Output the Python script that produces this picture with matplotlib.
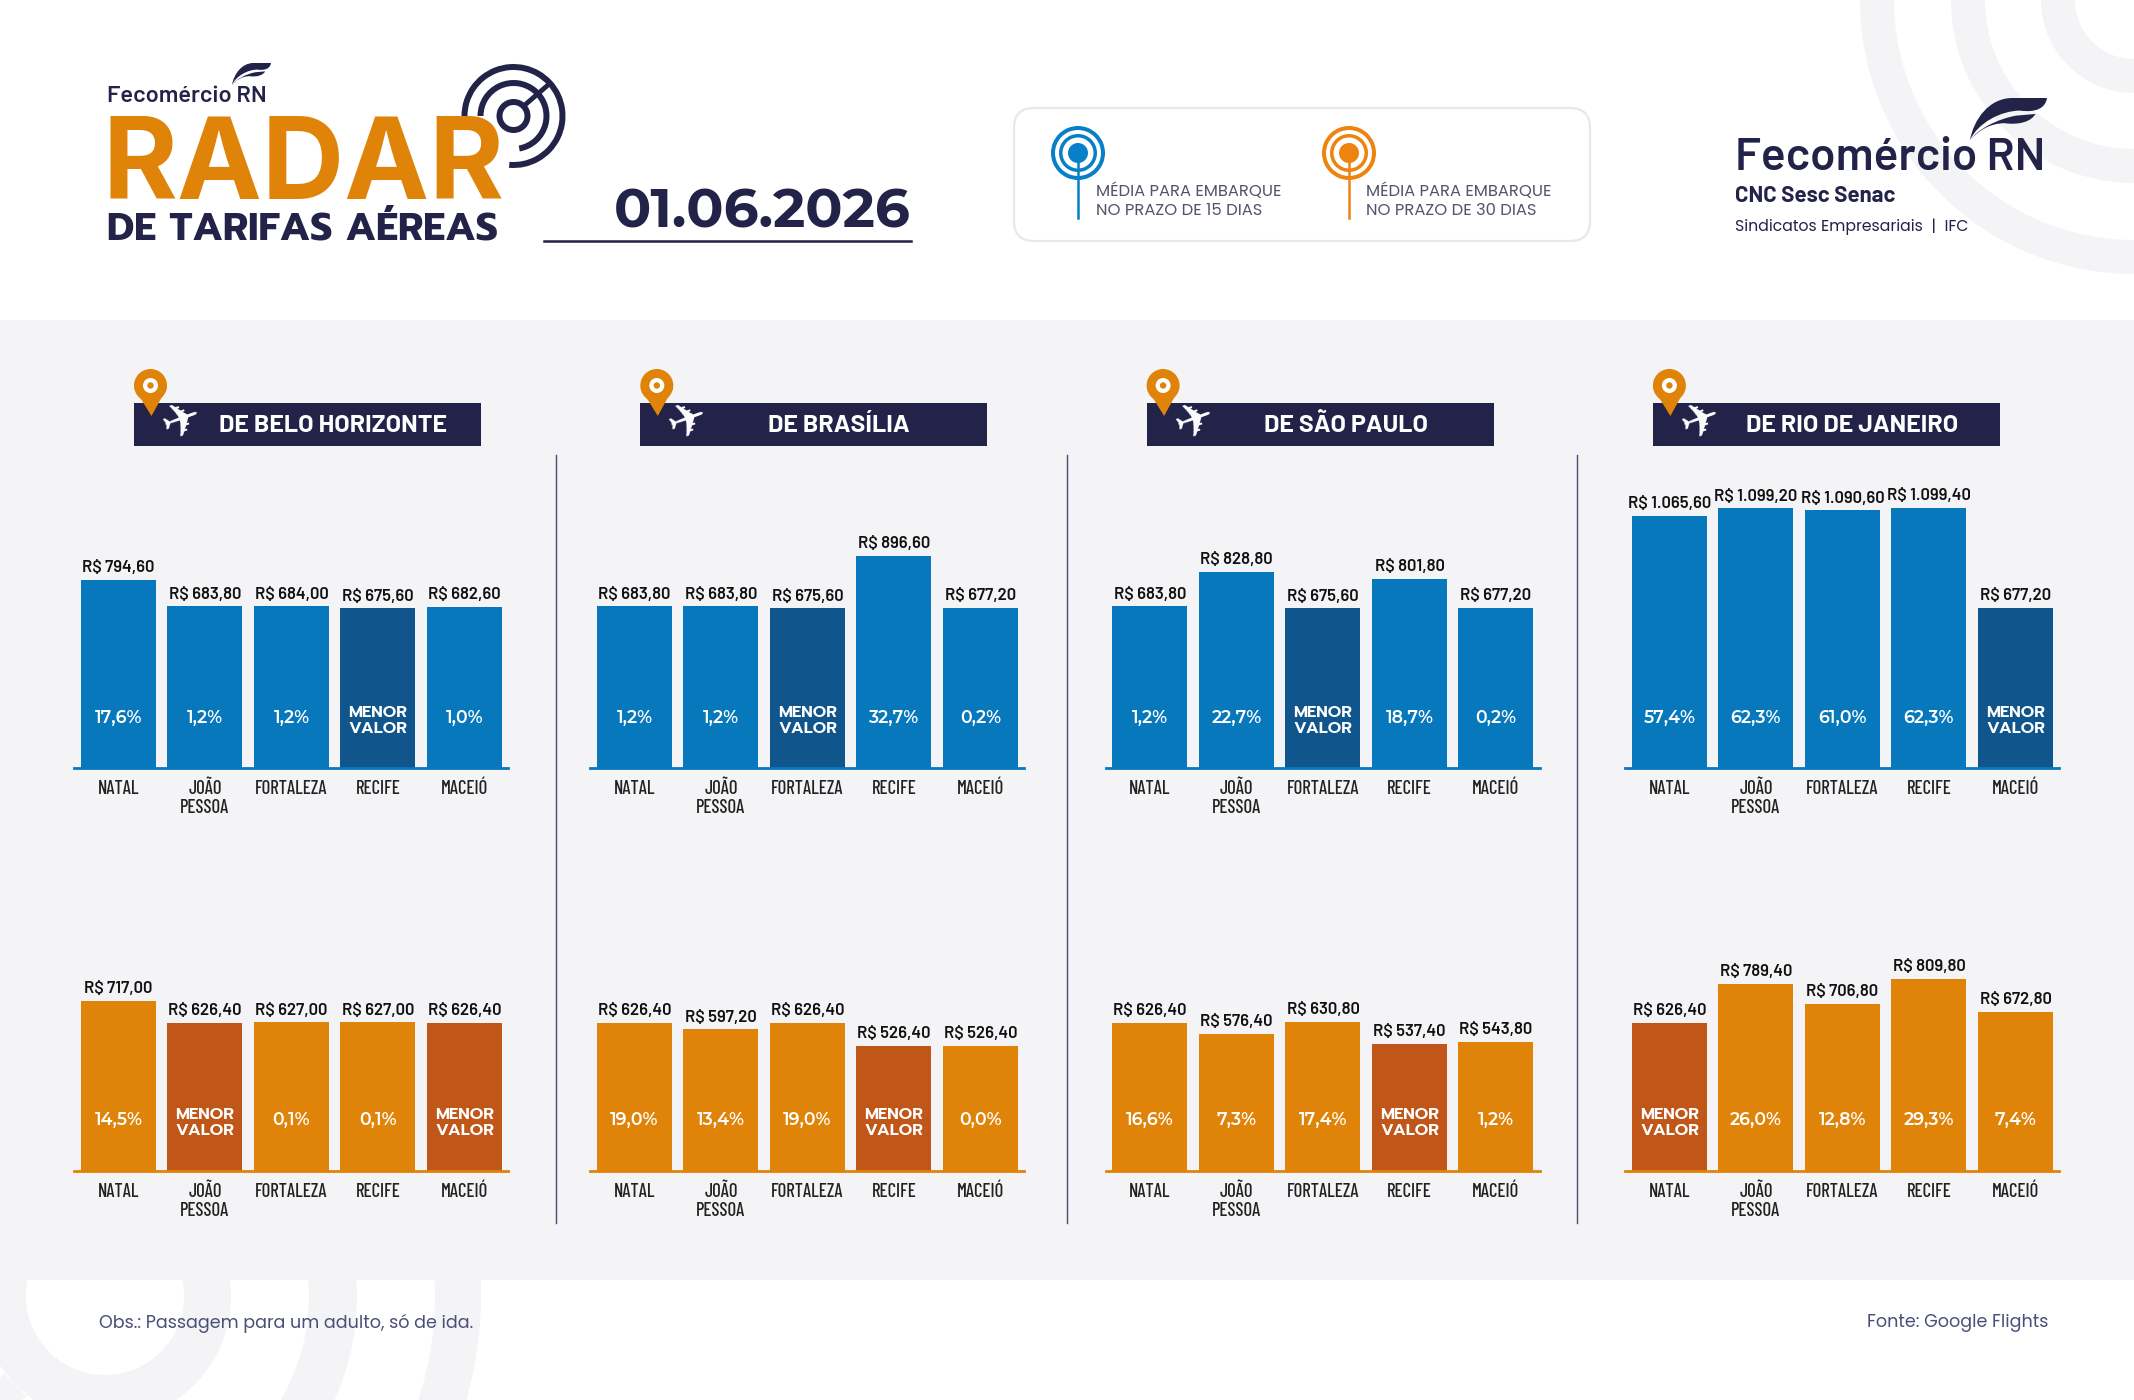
import matplotlib
matplotlib.use("Agg")
from matplotlib import pyplot as plt
from matplotlib.patches import Circle, FancyBboxPatch, PathPatch, Polygon, Rectangle, Wedge
from matplotlib.path import Path

W, H = 2134, 1400

cities = ["NATAL", "JOÃO\nPESSOA", "FORTALEZA", "RECIFE", "MACEIÓ"]
origins = ["DE BELO HORIZONTE", "DE BRASÍLIA", "DE SÃO PAULO", "DE RIO DE JANEIRO"]

# None = MENOR VALOR
bh_15 = [794.60, 683.80, 684.00, 675.60, 682.60]
bh_15_pct = ["17,6%", "1,2%", "1,2%", None, "1,0%"]
bh_30 = [717.00, 626.40, 627.00, 627.00, 626.40]
bh_30_pct = ["14,5%", None, "0,1%", "0,1%", None]
bsb_15 = [683.80, 683.80, 675.60, 896.60, 677.20]
bsb_15_pct = ["1,2%", "1,2%", None, "32,7%", "0,2%"]
bsb_30 = [626.40, 597.20, 626.40, 526.40, 526.40]
bsb_30_pct = ["19,0%", "13,4%", "19,0%", None, "0,0%"]
sp_15 = [683.80, 828.80, 675.60, 801.80, 677.20]
sp_15_pct = ["1,2%", "22,7%", None, "18,7%", "0,2%"]
sp_30 = [626.40, 576.40, 630.80, 537.40, 543.80]
sp_30_pct = ["16,6%", "7,3%", "17,4%", None, "1,2%"]
rj_15 = [1065.60, 1099.20, 1090.60, 1099.40, 677.20]
rj_15_pct = ["57,4%", "62,3%", "61,0%", "62,3%", None]
rj_30 = [626.40, 789.40, 706.80, 809.80, 672.80]
rj_30_pct = [None, "26,0%", "12,8%", "29,3%", "7,4%"]

BLUE, BLUE_DARK = "#0778bc", "#10568c"
ORANGE, ORANGE_DARK = "#e08309", "#c15619"
NAVY = "#232349"
GRAY = "#f4f4f7"
COND = ["Barlow Condensed", "Liberation Sans Narrow", "Roboto"]
BARLOW = ["Barlow", "Roboto"]
DIGITS = ["Montserrat Alternates", "Poppins", "Inter"]
CAPS = ["Prompt", "Poppins", "Inter"]
LIGHT = ["Poppins", "Lato"]

fig = plt.figure(figsize=(W / 100, H / 100), dpi=100, facecolor="white")

bg = fig.add_axes([0, 0, 1, 1], zorder=0)
bg.set_xlim(0, W)
bg.set_ylim(H, 0)
bg.axis("off")


def arc(ax, c, r, t, color, start=0, end=360, z=1):
    # start/end are screen angles, y axis is flipped
    ax.add_patch(Wedge(c, r, -end, -start, width=t, fc=color, ec="none", zorder=z))


def wing(ax, x, y, w, h, color, z=5):
    def tr(pts):
        return [(x + a * w, y + b * h) for a, b in pts]
    c4 = Path.CURVE4
    top = [(0, 1), (.05, .5), (.25, 0), (.55, 0), (1, 0), (.98, .25), (.85, .35), (.65, .3), (.4, .3), (.1, .6), (0, 1)]
    codes = [Path.MOVETO, c4, c4, c4, Path.LINETO, c4, c4, c4, c4, c4, c4]
    ax.add_patch(PathPatch(Path(tr(top), codes), fc=color, ec="none", zorder=z))
    low = [(0, 1), (.1, .75), (.35, .5), (.6, .42), (.85, .38), (.8, .55), (.65, .65), (.45, .6), (.25, .6), (.1, .8), (0, 1)]
    ax.add_patch(PathPatch(Path(tr(low), codes), fc=color, ec="none", zorder=z))


# background rings
for r in [93, 183, 274]:
    arc(bg, (W, 0), r, 34, GRAY)
for r, inner in [(126, 79), (252, 204), (376, 330)]:
    arc(bg, (105, 1296), r, r - inner, GRAY)
bg.plot([15, -30], [1385, 1430], color=GRAY, lw=23, solid_capstyle="butt", zorder=1)
bg.add_patch(Rectangle((0, 320), W, 960, fc=GRAY, ec="none", zorder=2))

# left logo and title
bg.text(107, 102, "Fecomércio RN", family=BARLOW, fontweight="semibold", fontsize=17, color=NAVY, zorder=5)
wing(bg, 232, 63, 39, 22, NAVY)
bg.text(103, 199, "RADAR", family="Inter", fontweight="bold", fontsize=82, color=ORANGE, zorder=5)
bg.text(107, 239, "DE TARIFAS AÉREAS", family=CAPS, fontweight="bold", fontsize=28, color=NAVY, zorder=5)
c = (513.5, 116)
arc(bg, c, 52, 6, NAVY, start=-95, end=180, z=6)
arc(bg, c, 36, 6, NAVY, start=-80, end=180, z=6)
arc(bg, c, 17, 6, NAVY, z=6)
bg.plot([526, 548], [104, 85], color=NAVY, lw=3.5, zorder=6)

bg.text(911, 227, "01.06.2026", family=DIGITS, fontweight="bold", fontsize=39.5, color=NAVY, ha="right", zorder=5)
bg.plot([544, 911], [241, 241], color=NAVY, lw=1.8, zorder=5)

# legend box
bg.add_patch(FancyBboxPatch((1014, 108), 576, 133, boxstyle="round,pad=0,rounding_size=20", fc="white", ec="#e8e8ec", lw=1.6, zorder=3))
for x, color, text_x, days in [(1078, "#0780c8", 1096, "15"), (1349, "#ee8410", 1366, "30")]:
    arc(bg, (x, 153), 27, 4, color, z=5)
    arc(bg, (x, 153), 19, 3.5, color, z=5)
    bg.add_patch(Circle((x, 153), 10, fc=color, ec="none", zorder=5))
    bg.plot([x, x], [160, 218], color=color, lw=1.8, zorder=5)
    bg.text(text_x, 201, "MÉDIA PARA EMBARQUE\nNO PRAZO DE %s DIAS" % days, family=LIGHT, fontsize=11.8, color="#55556a",
            va="center", linespacing=1.25, zorder=5)

# right logo
bg.text(1735, 170, "Fecomércio RN", family=BARLOW, fontweight="semibold", fontsize=33, color=NAVY, zorder=5)
wing(bg, 1970, 98, 77, 42, NAVY)
bg.text(1735, 202, "CNC Sesc Senac", family=BARLOW, fontweight="bold", fontsize=16, color=NAVY, zorder=5)
bg.text(1735, 231, "Sindicatos Empresariais  |  IFC", family=LIGHT, fontsize=11.3, color=NAVY, zorder=5)

# footer
bg.text(99, 1323, "Obs.: Passagem para um adulto, só de ida.", family=LIGHT, fontsize=12.6, color="#4b4f78", va="center", zorder=5)
bg.text(2048, 1323, "Fonte: Google Flights", family=LIGHT, fontsize=12.6, color="#4b4f78", va="center", ha="right", zorder=5)

# origin headers
for i, name in enumerate(origins):
    x0 = 134 + 506.3 * i
    bg.add_patch(Rectangle((x0, 403), 347, 42.5, fc=NAVY, ec="none", zorder=3))
    bg.text(x0 + 199, 432, name, family=BARLOW, fontweight="bold", fontsize=18, color="white", ha="center", zorder=5)
    bg.text(x0 + 48, 422, "\u2708", family="DejaVu Sans", fontsize=34, color="white", ha="center", va="center", rotation=20, zorder=5)
    cx = x0 + 16.5
    bg.add_patch(Circle((cx, 385.5), 16.5, fc=ORANGE, ec="none", zorder=4))
    bg.add_patch(Polygon([(cx - 16.3, 388), (cx + 16.3, 388), (cx + 1, 416)], fc=ORANGE, ec="none", zorder=4))
    bg.add_patch(Circle((cx, 385.5), 7.5, fc="white", ec="none", zorder=5))
    bg.add_patch(Circle((cx, 385.5), 3.2, fc=ORANGE, ec="none", zorder=6))

for x in [555.5, 1067, 1577]:
    bg.plot([x, x], [455, 1223], color="#4a4a72", lw=1, zorder=3)

PX_PER_REAL = 0.2362
AX_H = 320


def bar_panel(left, base, values, pcts, color, low_color):
    ax = fig.add_axes([left / W, 1 - base / H, 434 / W, AX_H / H], zorder=2)
    ax.patch.set_visible(False)
    cols = [low_color if p is None else color for p in pcts]
    bars = ax.bar(range(5), values, width=75 / 86.5, color=cols)
    ax.set_xlim(-0.514, 4.503)
    ax.set_ylim(0, AX_H / PX_PER_REAL)
    for s in ["top", "left", "right"]:
        ax.spines[s].set_visible(False)
    ax.spines["bottom"].set_color(color)
    ax.spines["bottom"].set_linewidth(2)
    ax.set_yticks([])
    ax.set_xticks(range(5))
    ax.set_xticklabels(cities, family=COND, fontweight="medium", fontsize=13.5, color="#222222", linespacing=1.05)
    ax.tick_params(axis="x", length=0, pad=9)
    money = ["R$ " + f"{v:,.2f}".replace(",", "X").replace(".", ",").replace("X", ".") for v in values]
    ax.bar_label(bars, labels=money, padding=3.5, family=BARLOW, fontweight="semibold", fontsize=12, color="#111111")
    for i, p in enumerate(pcts):
        if p is None:
            ax.annotate("MENOR\nVALOR", (i, 0), xytext=(0, 34), textcoords="offset points", ha="center", va="center",
                        family=CAPS, fontweight="semibold", fontsize=12, color="white", linespacing=1.0)
        else:
            ax.annotate(p, (i, 0), xytext=(0, 36), textcoords="offset points", ha="center", va="center",
                        family=DIGITS, fontweight="semibold", fontsize=12.5, color="white")
    return ax


lefts = [74, 590, 1105.5, 1625]
rows_15 = [(bh_15, bh_15_pct), (bsb_15, bsb_15_pct), (sp_15, sp_15_pct), (rj_15, rj_15_pct)]
rows_30 = [(bh_30, bh_30_pct), (bsb_30, bsb_30_pct), (sp_30, sp_30_pct), (rj_30, rj_30_pct)]
for left, (v15, p15), (v30, p30) in zip(lefts, rows_15, rows_30):
    bar_panel(left, 768, v15, p15, BLUE, BLUE_DARK)
    bar_panel(left, 1170.5, v30, p30, ORANGE, ORANGE_DARK)

plt.savefig("out.png", dpi=100)
